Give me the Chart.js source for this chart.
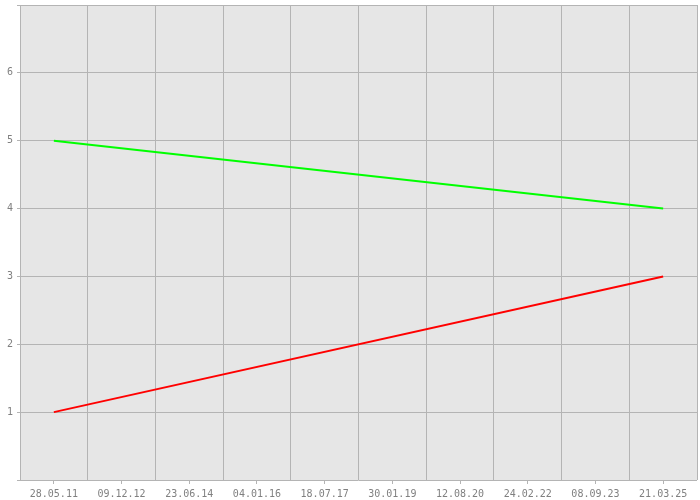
<!DOCTYPE html>
<html><head><meta charset="utf-8">
<script src="https://cdn.jsdelivr.net/npm/chart.js@4"></script>
<style>html,body{margin:0;padding:0;background:#fff}#w{width:700px;height:500px}</style>
</head><body><div id="w"><canvas id="c"></canvas></div>
<script>
const categories = ['28.05.11','09.12.12','23.06.14','04.01.16','18.07.17','30.01.19','12.08.20','24.02.22','08.09.23','21.03.25'];
const greenValues = [5, null, null, null, null, null, null, null, null, 4];
const redValues = [1, null, null, null, null, null, null, null, null, 3];
const yMin = 0, yMax = 7;

const gridColor = '#b4b4b4';
const tickFont = {family: 'DejaVu Sans Mono', size: 10};
const textColor = '#808080';

const bgPlugin = {
  id: 'bg',
  beforeDraw(chart) {
    const {ctx, chartArea: a} = chart;
    ctx.save();
    ctx.fillStyle = '#e6e6e6';
    ctx.fillRect(a.left, a.top, a.right - a.left, a.bottom - a.top);
    ctx.restore();
  }
};

function noPad(s) { s.paddingTop = 0; s.paddingBottom = 0; s.paddingLeft = 0; s.paddingRight = 0; }

new Chart(document.getElementById('c'), {
  type: 'line',
  data: {
    labels: categories,
    datasets: [
      {data: greenValues, borderColor: '#00ff00', borderWidth: 2, pointRadius: 0, spanGaps: true, tension: 0, xAxisID: 'x'},
      {data: redValues, borderColor: '#ff0000', borderWidth: 2, pointRadius: 0, spanGaps: true, tension: 0, xAxisID: 'x'}
    ]
  },
  options: {
    responsive: true, maintainAspectRatio: false, animation: false,
    layout: {padding: {top: 5, right: 3, left: 0, bottom: 0}},
    plugins: {legend: {display: false}, tooltip: {enabled: false}},
    scales: {
      x: {
        type: 'category', offset: true,
        grid: {offset: true, color: gridColor, drawTicks: false},
        border: {display: false},
        ticks: {display: false},
        afterFit(s) { s.height = 0; noPad(s); }
      },
      x2: {
        type: 'category', labels: categories, position: 'bottom', offset: true,
        grid: {offset: false, drawOnChartArea: false, color: gridColor, tickLength: 4},
        border: {display: false},
        ticks: {color: textColor, font: tickFont, padding: 4, maxRotation: 0, autoSkip: false},
        afterFit(s) { s.height = 20; noPad(s); }
      },
      y: {
        min: yMin, max: yMax,
        grid: {color: gridColor, tickLength: 3},
        border: {display: false},
        ticks: {stepSize: 1, color: textColor, font: tickFont, padding: 4,
          callback: (v) => (v === yMin || v === yMax) ? '' : String(v)},
        afterFit(s) { s.width = 20; noPad(s); }
      }
    }
  },
  plugins: [bgPlugin]
});
</script></body></html>
